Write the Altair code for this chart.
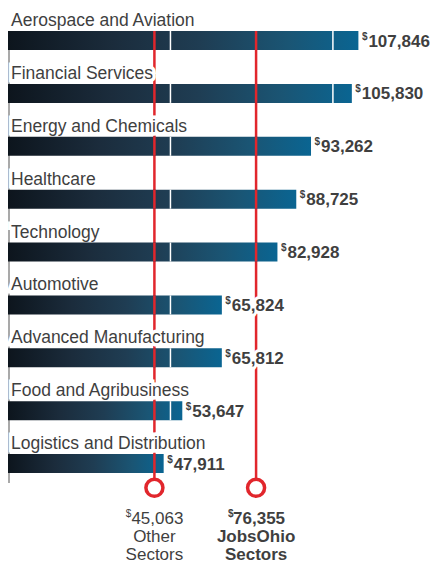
import altair as alt
import pandas as pd

# ---- data ----
categories = ["Aerospace and Aviation", "Financial Services", "Energy and Chemicals",
              "Healthcare", "Technology", "Automotive", "Advanced Manufacturing",
              "Food and Agribusiness", "Logistics and Distribution"]
salaries = [107846, 105830, 93262, 88725, 82928, 65824, 65812, 53647, 47911]
benchmark_names = ["Other", "JobsOhio"]
benchmark_suffix = "Sectors"
benchmark_values = [45063, 76355]
grid_values = [50000, 100000]

# ---- tables built from the arrays ----
n = len(categories)
bars = pd.DataFrame({"category": categories, "salary": salaries, "row": list(range(n))})
bars["label"] = [f"{v:,}" for v in salaries]

grid = pd.DataFrame([
    {"row": i, "salary": g}
    for i, s in enumerate(salaries) for g in grid_values if s > g
])

bar_top = -0.18           # top edge of first bar (row units)
marker_row = n - 0.54     # row where the benchmark circles sit
bench = pd.DataFrame({
    "name": benchmark_names,
    "salary": benchmark_values,
    "top": [bar_top] * len(benchmark_values),
    "bottom": [marker_row] * len(benchmark_values),
})
bench["label"] = [f"{v:,}" for v in benchmark_values]
bench["suffix"] = [benchmark_suffix] * len(benchmark_values)

# red line segments lying over bars
bench_over = pd.DataFrame([
    {"row": i, "salary": b}
    for i, s in enumerate(salaries) for b in benchmark_values if s > b
])

RED = "#e1262c"
TXT = "#3f3f3f"
FONT = "Liberation Sans, Arial"

xs = alt.Scale(domain=[0, 130500], nice=False, zero=False, padding=0)
ys = alt.Scale(domain=[-0.615, 9.9], reverse=True, nice=False, zero=False, padding=0)


def X(f="salary"):
    return alt.X(f"{f}:Q", scale=xs, axis=None)


def Y(f="row"):
    return alt.Y(f"{f}:Q", scale=ys, axis=None)


gradient = alt.LinearGradient(
    gradient="linear", x1=0, x2=1, y1=0, y2=0,
    stops=[
        alt.GradientStop(color="#0d151d", offset=0),
        alt.GradientStop(color="#1b2c3c", offset=0.3),
        alt.GradientStop(color="#1f3d53", offset=0.55),
        alt.GradientStop(color="#1a5574", offset=0.8),
        alt.GradientStop(color="#0a6592", offset=1),
    ],
)

base_bars = alt.Chart(bars)

bar_layer = base_bars.mark_bar(orient="horizontal", size=19, color=gradient).encode(
    x=alt.X("salary:Q", scale=xs, axis=None, stack=None), y=Y()
)

grid_layer = alt.Chart(grid).mark_tick(
    orient="vertical", size=19, thickness=1.5, color="white", opacity=1
).encode(x=X(), y=Y())

left_line = alt.Chart(pd.DataFrame({"x": [0], "top": [bar_top], "bottom": [n - 0.63]})).mark_rule(
    color="#a9a9a9", strokeWidth=2, xOffset=1
).encode(x=X("x"), y=Y("top"), y2="bottom:Q")

red_lines = alt.Chart(bench).mark_rule(color=RED, strokeWidth=2.5).encode(
    x=X(), y=Y("top"), y2="bottom:Q"
)
red_over = alt.Chart(bench_over).mark_tick(
    orient="vertical", size=19, thickness=2.5, color=RED, opacity=1
).encode(x=X(), y=Y())

cat_kw = dict(align="left", baseline="alphabetic", dx=3, dy=-14.5, fontSize=17.5, font=FONT)
cat_halo = base_bars.mark_text(color="white", stroke="white", strokeWidth=7, **cat_kw).encode(
    x=alt.X(datum=0, scale=xs, axis=None), y=Y(), text="category:N"
)
cat_text = base_bars.mark_text(color=TXT, **cat_kw).encode(
    x=alt.X(datum=0, scale=xs, axis=None), y=Y(), text="category:N"
)

val_kw = dict(align="left", baseline="middle", dx=10, dy=1, fontSize=17, fontWeight="bold", font=FONT)
val_halo = base_bars.mark_text(color="white", stroke="white", strokeWidth=6, **val_kw).encode(
    x=X(), y=Y(), text="label:N"
)
val_text = base_bars.mark_text(color=TXT, **val_kw).encode(x=X(), y=Y(), text="label:N")
dollar = base_bars.mark_text(
    align="left", baseline="middle", dx=3.5, dy=-4, fontSize=10, fontWeight="bold", font=FONT, color=TXT
).encode(x=X(), y=Y(), text=alt.value("$"))

circles = alt.Chart(bench).mark_point(
    shape="circle", size=290, fill="white", fillOpacity=1, stroke=RED, strokeWidth=3.5, opacity=1
).encode(x=X(), y=Y("bottom"))

other = alt.Chart(bench).transform_filter(alt.datum.name == benchmark_names[0])
jobs = alt.Chart(bench).transform_filter(alt.datum.name == benchmark_names[1])


def bottom_text(src, field, dy, dx=0, align="center", size=17, weight="normal"):
    return src.mark_text(align=align, baseline="middle", dx=dx, dy=dy, fontSize=size,
                         fontWeight=weight, font=FONT, color=TXT).encode(
        x=X(), y=Y("bottom"), text=field)


o_layers = [
    bottom_text(other, "label:N", 31, dx=3),
    bottom_text(other, alt.value("$"), 26, dx=-23, align="right", size=10),
    bottom_text(other, "name:N", 49),
    bottom_text(other, "suffix:N", 67),
]
j_layers = [
    bottom_text(jobs, "label:N", 31, dx=3, weight="bold"),
    bottom_text(jobs, alt.value("$"), 26, dx=-22.5, align="right", size=10, weight="bold"),
    bottom_text(jobs, "name:N", 49, weight="bold"),
    bottom_text(jobs, "suffix:N", 67, weight="bold"),
]

chart = alt.layer(
    left_line, red_lines, cat_halo, bar_layer, grid_layer, red_over,
    cat_text, val_halo, val_text, dollar,
    circles, *o_layers, *j_layers,
).properties(
    width=424, height=556, padding=0,
    autosize=alt.AutoSizeParams(type="none"),
).configure_view(stroke=None)

chart.save("out.html", embed_options={"renderer": "svg", "actions": False})
